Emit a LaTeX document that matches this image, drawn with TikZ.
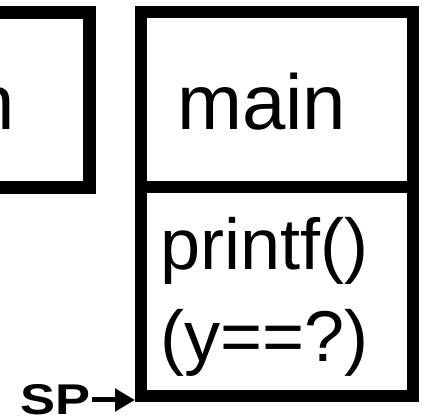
\documentclass[tikz,border=0pt]{standalone}
\usepackage{fontspec}
\setmainfont{Liberation Sans}
\usetikzlibrary{arrows.meta}
\tikzset{
  frame/.style={line width=12pt, line join=miter},
  lbl/.style={inner sep=0pt, anchor=base west},
  bigtxt/.style={font=\fontsize{78}{78}\selectfont},
  midtxt/.style={font=\fontsize{72}{72}\selectfont},
  sptxt/.style={font=\fontsize{43}{43}\selectfont\bfseries},
  sparrow/.style={line width=5pt, -{Triangle[length=20pt,width=22pt]}}
}
\begin{document}
\begin{tikzpicture}[x=1pt,y=1pt]
\useasboundingbox (0,0) rectangle (424,420);
\clip (0,0) rectangle (424,420);
% left (previous) frame, partly cut off
\draw[frame, line width=13pt] (-40,407.5) -- (89.5,407.5) -- (89.5,232) -- (-40,232);
\node[inner sep=0pt, anchor=base east, bigtxt] (mainL) at (15,290) {main};
% right frame
\draw[frame] (141,408) rectangle (413,24);
\draw[frame] (141,232.5) -- (413,232.5);
\node[lbl, bigtxt] (mainR) at (177,290) {main};
\node[lbl, midtxt] (pf) at (160,150) {printf()};
\node[lbl, midtxt] (yq) at (160,58) {(y==?)};
% stack pointer
\node[lbl, sptxt] (sp) at (20,5) {\scalebox{1.22}[1]{SP}};
\coordinate (corner) at (135,20);
\draw[sparrow, shorten <=2pt] (sp.east |- corner) -- (corner);
\end{tikzpicture}
\end{document}
